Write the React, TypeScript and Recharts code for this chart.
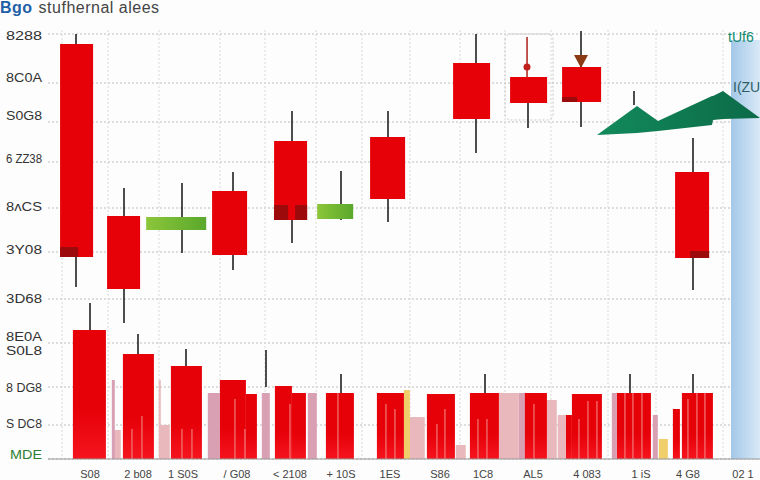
import React from "react";
import { ComposedChart, Bar, Area, Scatter, XAxis, YAxis, CartesianGrid, ReferenceArea } from "recharts";

// [from, to, low, high]
const redCandles = [[60,93,202,415],[107,140,170,243],[212,247,204,268],[274,307,239,318],[370,405,260,322],[453,490,340,396],[510,547,356,382],[562,601,357,392],[675,709,201,287]];
const darkCandles = [[60,78,202,212],[274,288,239,254],[295,307,239,254],[562,577,357,362],[690,709,201,208]];
const greenCandles = [[146,206,229,242],[317,353,240,255]];
// [x, low, high]
const wicks = [[76,172,425],[124,136,271],[182,206,276],[233,189,287],[292,216,348],[341,239,288],[388,237,348],[476,306,425],[528,331,382],[581,332,428],[693,169,321],[634,354,368],[90,129,156],[138,105,125],[186,93,110],[266,72,109],[341,66,85],[485,66,85],[630,66,85],[693,66,85]];
const dottedWick = [[527,382,422]];
// [from, to, height]
const volumes = [[73,106,129],[123,154,105],[171,202,93],[220,246,79],[246,257,65],[275,292,73],[292,306,66],[326,354,66],[377,404,66],[427,455,65],[470,499,66],[525,547,66],[566,572,44],[572,602,65],[617,651,66],[673,680,50],[682,713,66]];
const paleVolumes = [[113,121,29],[160,170,34],[407,425,42],[499,519,66],[547,557,59],[558,566,44],[456,466,14],[159,161,79]];
const mauveVolumes = [[208,220,66],[262,270,66],[308,317,66],[519,526,66],[612,617,66],[653,658,44],[112,115,79]];
const yellowVolumes = [[404,410,69],[659,668,20]];
// [x, height]
const stripes = [[132,30],[142,43],[182,30],[192,30],[235,60],[245,30],[290,55],[338,66],[386,55],[395,50],[437,35],[445,50],[478,40],[487,40],[534,55],[579,40],[588,58],[597,58],[625,66],[633,66],[642,66],[688,60],[697,66],[705,66]];
// [x, low, high]
const ridge = [[597,324,324],[637,326,353],[658,328,338],[712,334,363],[713,339,363],[723,340,368],[760,341,341]];
const arrowPoints = [{ x: 581, y: 399 }];
const knobPoints = [{ x: 527, y: 392 }];

const yTicks = [4,35,71,108,122,160,209,252,300,343,381,423];
const yTickLabels = ["MDE","S DC8","8 DG8","S0L8","8E0A","3D68","3Y08","8ʌCS","6 ZZ38","S0G8","8C0A","8288"];
const gridY = [0,34,72,116,160,207,251,297,337,376,425];
const xTicks = [90,138,183,237,290,341,390,440,483,533,587,641,688,743];
const xTickLabels = ["S08","2 b08","1 S0S","/ G08","< 2108","+ 10S","1ES","S86","1C8","AL5","4 083","1 iS","4 G8","02 1"];
const gridX = [62,108,159,220,265,316,362,410,460,505,551,608,656,723];

const rows: any[] = [
  ...ridge.map(([x,l,h]) => ({ x, ridge: [l,h] })),
  ...paleVolumes.map(([a,b,h]) => ({ x:(a+b)/2, span:b-a, pale:[0,h] })),
  ...mauveVolumes.map(([a,b,h]) => ({ x:(a+b)/2, span:b-a, mauve:[0,h] })),
  ...yellowVolumes.map(([a,b,h]) => ({ x:(a+b)/2, span:b-a, yellow:[0,h] })),
  ...volumes.map(([a,b,h]) => ({ x:(a+b)/2, span:b-a, volume:[0,h] })),
  ...stripes.map(([x,h]) => ({ x, span:1.2, stripe:[0,h] })),
  ...wicks.map(([x,l,h]) => ({ x, span:1.6, wick:[l,h] })),
  ...dottedWick.map(([x,l,h]) => ({ x, span:1.6, dotted:[l,h] })),
  ...redCandles.map(([a,b,l,h]) => ({ x:(a+b)/2, span:b-a, red:[l,h] })),
  ...darkCandles.map(([a,b,l,h]) => ({ x:(a+b)/2, span:b-a, dark:[l,h] })),
  ...greenCandles.map(([a,b,l,h]) => ({ x:(a+b)/2, span:b-a, green:[l,h] })),
].sort((p,q) => p.x - q.x);

const spanShape = (fill: string, key: string, extra: any = {}) => (p: any) => {
  if (!p.payload || !p.payload[key]) return <g />;
  const w = p.payload.span;
  return <rect x={p.x + p.width/2 - w/2} y={p.y} width={w} height={Math.abs(p.height)} fill={fill} {...extra} />;
};
const series = (key: string, fill: string, extra: any = {}) => (
  <Bar key={key} dataKey={key} barSize={1} isAnimationActive={false} shape={spanShape(fill, key, extra)} />
);

const YTick = (p: any) => {
  const i = yTicks.indexOf(p.payload.value);
  const last = i === 0;
  return <text x={last ? 10 : 6} y={p.y + 4} textLength={last ? 32 : 36} lengthAdjust="spacingAndGlyphs" fontSize={13} fontFamily="Liberation Sans" fill={last ? "#2f7d32" : "#333"}>{yTickLabels[i]}</text>;
};
const XTick = (p: any) => (
  <text x={p.x} y={p.y + 11} textAnchor="middle" fontSize={11} fontFamily="Liberation Sans" fill="#444">{xTickLabels[xTicks.indexOf(p.payload.value)]}</text>
);
const Arrow = (p: any) => <path d={`M${p.cx-7} ${p.cy-5}L${p.cx+7} ${p.cy-5}L${p.cx} ${p.cy+8}Z`} fill="#8a3a14" />;
const Knob = (p: any) => <circle cx={p.cx} cy={p.cy} r={3.5} fill="#c0201c" />;

export default function App() {
  return (
    <div style={{ position: "absolute", left: 0, top: 0, width: 760, height: 480, background: "#fdfdfd", overflow: "hidden", fontFamily: "Liberation Sans" }}>
      <ComposedChart width={760} height={480} data={rows} barGap={-1} margin={{ top: 30, right: 0, bottom: 0, left: 0 }} style={{ position: "absolute", left: 0, top: 0 }}>
        <defs>
          <linearGradient id="band" x1="0" y1="0" x2="1" y2="0">
            <stop offset="0" stopColor="#a3c8e8" />
            <stop offset="1" stopColor="#d9e9f7" />
          </linearGradient>
          <linearGradient id="ridgeFill" x1="0" y1="0" x2="1" y2="0">
            <stop offset="0" stopColor="#128a5c" />
            <stop offset="1" stopColor="#0c6a48" />
          </linearGradient>
          <linearGradient id="volFill" x1="0" y1="0" x2="0" y2="1">
            <stop offset="0" stopColor="#e60008" />
            <stop offset="0.6" stopColor="#e60008" />
            <stop offset="1" stopColor="#f5141e" />
          </linearGradient>
          <linearGradient id="greenFill" x1="0" y1="0" x2="1" y2="0">
            <stop offset="0" stopColor="#8cc63a" />
            <stop offset="1" stopColor="#5aa82c" />
          </linearGradient>
        </defs>
        <ReferenceArea x1={731} x2={760} y1={0} y2={419} fill="url(#band)" fillOpacity={1} stroke="none" />
        <CartesianGrid stroke="#bdbdbd" strokeDasharray="2 2" vertical={false} horizontalValues={gridY} />
        <CartesianGrid stroke="#d8d8d8" strokeDasharray="2 2" horizontal={false} verticalValues={gridX} />
        <XAxis dataKey="x" type="number" domain={[48,760]} allowDataOverflow ticks={xTicks} tick={<XTick />} tickLine={false} height={21} stroke="#999" interval={0} />
        <YAxis type="number" domain={[0,429]} ticks={yTicks} tick={<YTick />} tickLine={false} axisLine={false} width={48} interval={0} />
        <ReferenceArea x1={505} x2={553} y1={339} y2={425} fill="none" stroke="#c8c8c8" strokeDasharray="2 2" radius={6} />
        {series("pale", "#e8b8bc")}
        {series("mauve", "#d9a0b4")}
        {series("yellow", "#f0cf6a")}
        {series("volume", "url(#volFill)")}
        {series("stripe", "#f27a7a")}
        {series("wick", "#222")}
        {series("dotted", "#b0302a", { strokeDasharray: "2 2" })}
        {series("red", "#e60008")}
        {series("dark", "#9c0a0c")}
        {series("green", "url(#greenFill)")}
        <Area dataKey="ridge" type="linear" connectNulls stroke="none" fill="url(#ridgeFill)" fillOpacity={1} isAnimationActive={false} dot={false} activeDot={false} />
        <Scatter data={arrowPoints} dataKey="y" shape={<Arrow />} isAnimationActive={false} />
        <Scatter data={knobPoints} dataKey="y" shape={<Knob />} isAnimationActive={false} />
      </ComposedChart>
      <div style={{ position: "absolute", left: 0, top: 0, fontSize: 16, lineHeight: "16px", color: "#444", whiteSpace: "nowrap", letterSpacing: 0.5 }}>
        <b style={{ color: "#1f5fa8" }}>Bgo</b>
        <span style={{ marginLeft: 6 }}>stufhernal alees</span>
      </div>
      <div style={{ position: "absolute", left: 728, top: 29, fontSize: 14, color: "#0f8a6e" }}>tUf6</div>
      <div style={{ position: "absolute", left: 733, top: 79, fontSize: 14, color: "#2f5f66" }}>I(ZU</div>
    </div>
  );
}
